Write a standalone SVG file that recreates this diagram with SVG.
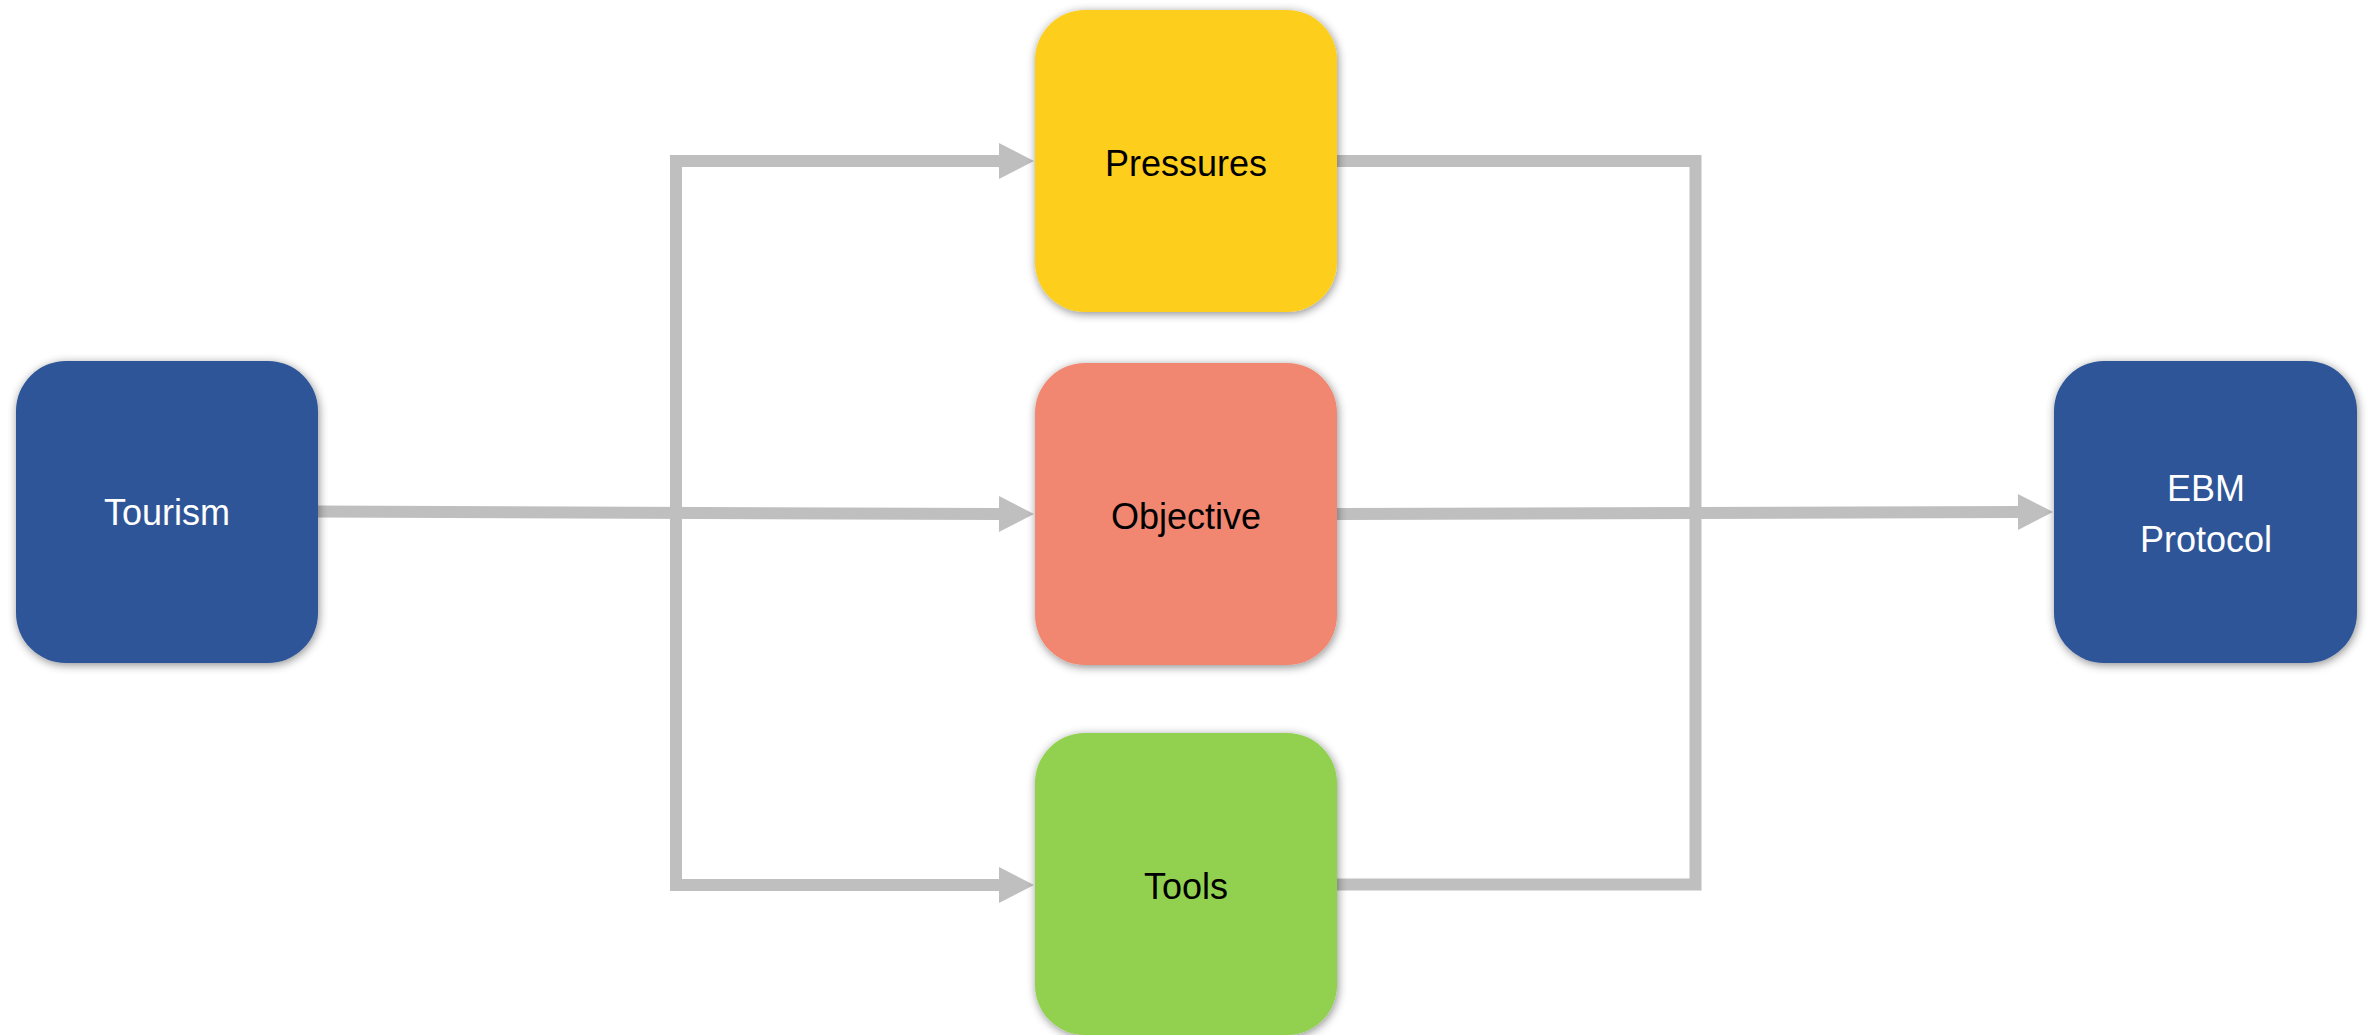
<svg xmlns="http://www.w3.org/2000/svg" width="2374" height="1035" viewBox="0 0 2374 1035">
  <style>
    .box { filter: url(#shadow); }
    .lbl { font-family: "Liberation Sans", Arial, sans-serif; font-size: 36px; text-anchor: middle; }
    .dark { fill: #ffffff; }
    .light { fill: #000000; }
    .conn { fill: none; stroke: #BFBFBF; stroke-width: 12; stroke-linejoin: miter; stroke-linecap: butt; }
  </style>
  <defs>
    <filter id="shadow" x="-15%" y="-15%" width="130%" height="130%">
      <feDropShadow dx="1" dy="2" stdDeviation="5" flood-color="#000000" flood-opacity="0.45"/>
    </filter>
    <marker id="arrow" markerUnits="userSpaceOnUse" viewBox="0 0 35 36" markerWidth="35" markerHeight="36" refX="1" refY="18" orient="auto" overflow="visible">
      <path d="M0,0 L35,18 L0,36 Z" fill="#BFBFBF"/>
    </marker>
  </defs>
  <rect width="2374" height="1035" fill="#ffffff"/>

  <g id="connectors">
    <line class="conn" x1="318" y1="511.5" x2="1000" y2="514" marker-end="url(#arrow)"/>
    <path class="conn" d="M676 512 V161 H1000" marker-end="url(#arrow)"/>
    <path class="conn" d="M676 512 V885 H1000" marker-end="url(#arrow)"/>
    <path class="conn" d="M1337 161 H1695.5 V884.5 H1337"/>
    <line class="conn" x1="1337" y1="514" x2="2019" y2="512" marker-end="url(#arrow)"/>
  </g>

  <g id="tourism">
    <rect class="box" x="16" y="361" width="302" height="302" rx="50" ry="50" fill="#2F5597"/>
    <text class="lbl dark" x="167" y="525">Tourism</text>
  </g>
  <g id="pressures">
    <rect class="box" x="1035" y="10" width="302" height="302" rx="50" ry="50" fill="#FDCE1F"/>
    <text class="lbl light" x="1186" y="176">Pressures</text>
  </g>
  <g id="objective">
    <rect class="box" x="1035" y="363" width="302" height="302" rx="50" ry="50" fill="#F28771"/>
    <text class="lbl light" x="1186" y="529">Objective</text>
  </g>
  <g id="tools">
    <rect class="box" x="1035" y="733" width="302" height="302" rx="50" ry="50" fill="#92D050"/>
    <text class="lbl light" x="1186" y="899">Tools</text>
  </g>
  <g id="ebm-protocol">
    <rect class="box" x="2054" y="361" width="303" height="302" rx="50" ry="50" fill="#2F5597"/>
    <text class="lbl dark" x="2206" y="501">EBM</text>
    <text class="lbl dark" x="2206" y="552">Protocol</text>
  </g>
</svg>
